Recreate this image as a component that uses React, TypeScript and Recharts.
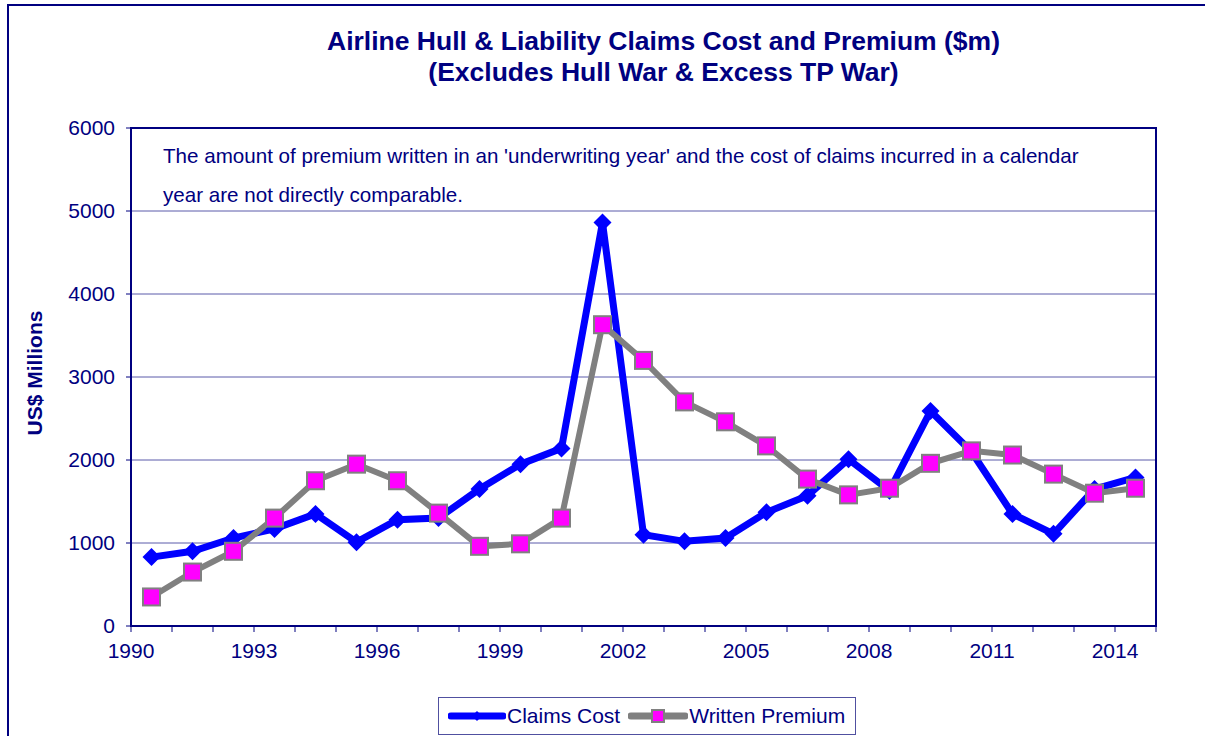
import React from "react"
import {
  LineChart,
  Line,
  XAxis,
  YAxis,
  CartesianGrid,
  ReferenceArea,
} from "recharts"

const years = [
  1990, 1991, 1992, 1993, 1994, 1995, 1996, 1997, 1998, 1999, 2000, 2001, 2002,
  2003, 2004, 2005, 2006, 2007, 2008, 2009, 2010, 2011, 2012, 2013, 2014,
]
const claimsCost = [
  830, 900, 1060, 1170, 1350, 1010, 1280, 1300, 1650, 1950, 2140, 4860, 1100,
  1020, 1060, 1370, 1570, 2010, 1630, 2590, 2100, 1350, 1110, 1650, 1790,
]
const writtenPremium = [
  350, 650, 900, 1300, 1750, 1950, 1750, 1360, 960, 990, 1300, 3630, 3200,
  2700, 2460, 2170, 1770, 1580, 1660, 1960, 2110, 2060, 1830, 1600, 1660,
]
const xTicks = [
  1990, 1991, 1992, 1993, 1994, 1995, 1996, 1997, 1998, 1999, 2000, 2001, 2002,
  2003, 2004, 2005, 2006, 2007, 2008, 2009, 2010, 2011, 2012, 2013, 2014, 2015,
]
const yTicks = [0, 1000, 2000, 3000, 4000, 5000, 6000]

// points sit in the middle of each year slot
const data = years.map((y, i) => ({
  x: y + 0.5,
  claims: claimsCost[i],
  premium: writtenPremium[i],
}))

const NAVY = "#000080"
const FONT = "'Liberation Sans', Arial, sans-serif"

const Diamond = (props: any) => {
  const { cx, cy, index } = props
  if (cx == null || cy == null) return null
  const r = 9
  return (
    <path
      key={`d-${index}`}
      d={`M${cx},${cy - r}L${cx + r},${cy}L${cx},${cy + r}L${cx - r},${cy}Z`}
      fill="#0000FF"
    />
  )
}

const Square = (props: any) => {
  const { cx, cy, index } = props
  if (cx == null || cy == null) return null
  const s = 17
  return (
    <rect
      key={`s-${index}`}
      x={cx - s / 2}
      y={cy - s / 2}
      width={s}
      height={s}
      fill="#FF00FF"
      stroke="#808080"
      strokeWidth={2}
    />
  )
}

export default function App() {
  return (
    <div
      style={{
        position: "absolute",
        left: 0,
        top: 0,
        width: 1205,
        height: 736,
        overflow: "hidden",
        background: "#fff",
        fontFamily: FONT,
      }}
    >
      {/* outer frame */}
      <div
        style={{
          position: "absolute",
          left: 7,
          top: 4,
          width: 1300,
          height: 900,
          border: `2px solid ${NAVY}`,
        }}
      />
      <div
        style={{
          position: "absolute",
          left: 0,
          width: 1327,
          top: 26,
          textAlign: "center",
          color: NAVY,
          fontWeight: "bold",
          fontSize: 26.5,
          lineHeight: "31px",
        }}
      >
        <div>Airline Hull &amp; Liability Claims Cost and Premium ($m)</div>
        <div>(Excludes Hull War &amp; Excess TP War)</div>
      </div>

      <div style={{ position: "absolute", left: 0, top: 0 }}>
        <LineChart
          width={1205}
          height={736}
          data={data}
          margin={{ top: 128, right: 49, bottom: 80, left: 71 }}
        >
          <CartesianGrid vertical={false} stroke="#5a5aaa" strokeWidth={1} />
          <ReferenceArea
            x1={1990}
            x2={2015}
            y1={0}
            y2={6000}
            fill="none"
            stroke={NAVY}
            strokeWidth={2}
            fillOpacity={0}
          />
          <XAxis
            dataKey="x"
            type="number"
            domain={[1990, 2015]}
            ticks={xTicks}
            interval={0}
            tickFormatter={(v: number) => ((v - 1990) % 3 === 0 && v < 2015 ? String(v) : "")}
            axisLine={{ stroke: NAVY, strokeWidth: 2 }}
            tickLine={{ stroke: NAVY, strokeWidth: 1 }}
            tickSize={6}
            tickMargin={11}
            tick={{ fill: NAVY, fontSize: 21, fontFamily: FONT }}
            height={30}
          />
          <YAxis
            type="number"
            domain={[0, 6000]}
            ticks={yTicks}
            interval={0}
            axisLine={{ stroke: NAVY, strokeWidth: 2 }}
            tickLine={{ stroke: NAVY, strokeWidth: 1 }}
            tickSize={5}
            tickMargin={11}
            tick={{ fill: NAVY, fontSize: 21, fontFamily: FONT }}
            width={60}
          />
          <Line
            type="linear"
            dataKey="claims"
            name="Claims Cost"
            stroke="#0000FF"
            strokeWidth={7}
            dot={Diamond}
            activeDot={false}
            isAnimationActive={false}
          />
          <Line
            type="linear"
            dataKey="premium"
            name="Written Premium"
            stroke="#808080"
            strokeWidth={6}
            dot={Square}
            activeDot={false}
            isAnimationActive={false}
          />
        </LineChart>
      </div>

      {/* note inside plot */}
      <div
        style={{
          position: "absolute",
          left: 163,
          top: 142,
          color: NAVY,
          fontSize: 20.6,
          whiteSpace: "nowrap",
        }}
      >
        <div style={{ lineHeight: "28px" }}>
          The amount of premium written in an 'underwriting year' and the cost of claims incurred in a calendar
        </div>
        <div style={{ marginTop: 11, lineHeight: "28px" }}>year are not directly comparable.</div>
      </div>

      {/* y axis title */}
      <div
        style={{
          position: "absolute",
          left: 35,
          top: 373,
          transform: "translate(-50%, -50%) rotate(-90deg)",
          color: NAVY,
          fontWeight: "bold",
          fontSize: 21,
          whiteSpace: "nowrap",
        }}
      >
        US$ Millions
      </div>

      {/* legend */}
      <div
        style={{
          position: "absolute",
          left: 438,
          top: 697,
          width: 416,
          height: 36,
          border: "1px solid #5050a0",
          display: "flex",
          alignItems: "center",
          color: NAVY,
          fontSize: 21,
          whiteSpace: "nowrap",
        }}
      >
        <svg width={58} height={20} style={{ marginLeft: 9 }}>
          <line x1={3} y1={10} x2={55} y2={10} stroke="#0000FF" strokeWidth={7} strokeLinecap="round" />
          <path d="M29,5L34,10L29,15L24,10Z" fill="#0000FF" />
        </svg>
        <span style={{ marginLeft: 1 }}>Claims Cost</span>
        <svg width={60} height={20} style={{ marginLeft: 8 }}>
          <line x1={3} y1={10} x2={57} y2={10} stroke="#808080" strokeWidth={7} strokeLinecap="round" />
          <rect x={24} y={4} width={12} height={12} fill="#FF00FF" stroke="#808080" strokeWidth={2} />
        </svg>
        <span style={{ marginLeft: 1 }}>Written Premium</span>
      </div>
    </div>
  )
}
